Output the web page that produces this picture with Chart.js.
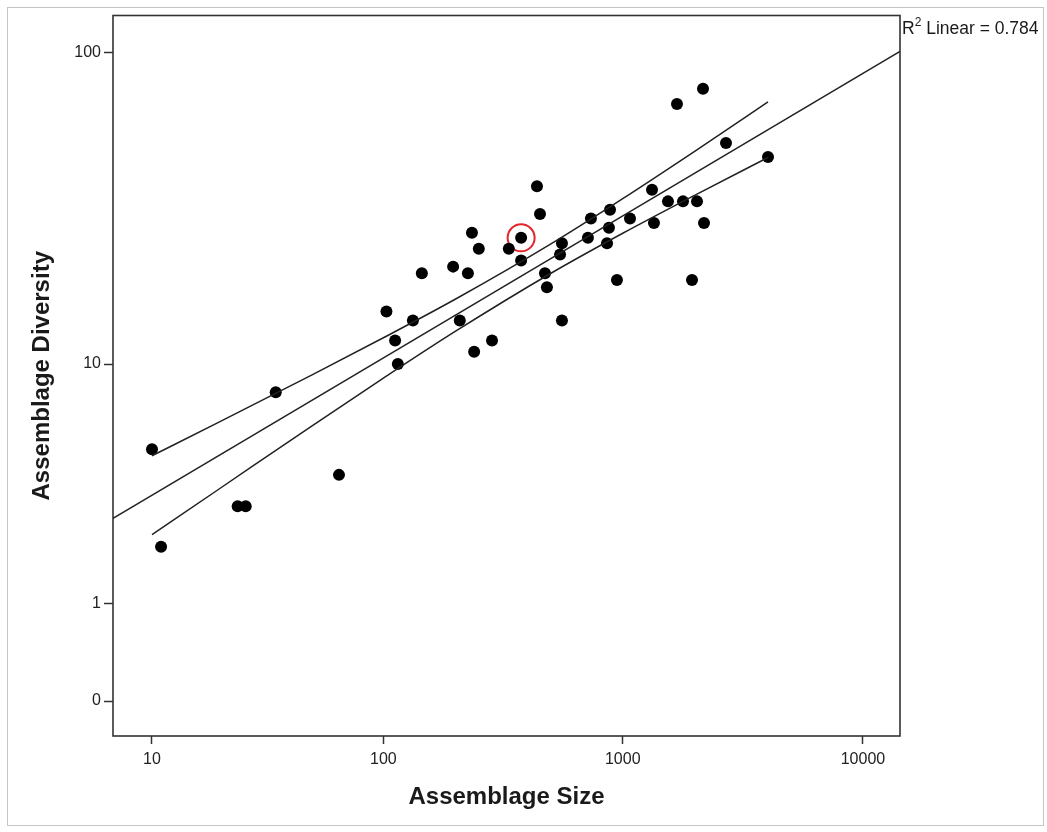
<!DOCTYPE html>
<html>
<head>
<meta charset="utf-8">
<script src="https://cdn.jsdelivr.net/npm/chart.js@4.4.1/dist/chart.umd.min.js"></script>
<style>
html,body{margin:0;padding:0;background:#fff;}
#wrap{position:relative;width:1047px;height:832px;overflow:hidden;}
#frame{position:absolute;left:7px;top:7px;width:1037px;height:819px;border:1px solid #c4c4c4;box-sizing:border-box;pointer-events:none;}
canvas{position:absolute;left:0;top:0;}
</style>
</head>
<body>
<div id="wrap"><canvas id="c" width="1047" height="832"></canvas><div id="frame"></div></div>
<script>
// ---- Data ----
const sizes = [10, 11, 24, 26, 35, 65, 103, 112, 115, 133, 145, 196, 209, 226, 235, 240, 251, 285, 335, 377,
               377, 439, 452, 474, 483, 548, 558, 558, 716, 737, 860, 876, 885, 946, 1072, 1324, 1349, 1543, 1682, 1782,
               1943, 2038, 2159, 2180, 2691, 4025];
const diversity = [5, 2, 3, 3, 8, 4, 15, 12, 10, 14, 20, 21, 14, 20, 27, 11, 24, 12, 24, 26,
                   22, 38, 31, 20, 18, 23, 25, 14, 26, 30, 25, 28, 32, 19, 30, 37, 29, 34, 69, 34,
                   19, 34, 77, 29, 52, 47];
const highlightX = [377];
const highlightY = [26];

// Fitted line (endpoints read at the plot edges)
const fitX = [6.57, 14263];
const fitY = [2.67, 100.7];

// Confidence band curves
const ciX = [10, 20, 50, 100, 200, 500, 1000, 2000, 4025];
const ciUpper = [4.73, 6.29, 9.19, 12.26, 16.44, 24.81, 34.68, 49.05, 69.98];
const ciLower = [2.27, 3.53, 6.09, 8.95, 12.87, 19.95, 26.90, 35.61, 46.83];

const xTickValues = [10, 100, 1000, 10000];
const yTickValues = [0, 1, 10, 100];
const xLabel = 'Assemblage Size';
const yLabel = 'Assemblage Diversity';
const r2Text = '0.784';

// ---- Transform: log10(v + 1) axes ----
const tf = v => Math.log10(v + 1);
const inv = u => Math.round(Math.pow(10, u) - 1);
const pts = (xs, ys) => xs.map((x, i) => ({x: tf(x), y: tf(ys[i])}));

const X_MIN = 0.8791, X_MAX = 4.1542;
const Y_MIN = -0.1079, Y_MAX = 2.1184;

const lineColor = '#222';
const tickFont = {family: "'Liberation Sans', Arial, sans-serif", size: 16};
const titleFont = {family: "'Liberation Sans', Arial, sans-serif", size: 24, weight: 'bold'};

const boxPlugin = {
  id: 'boxPlugin',
  beforeDatasetsDraw(chart) {
    const {ctx, chartArea: a} = chart;
    ctx.save();
    ctx.strokeStyle = '#333';
    ctx.lineWidth = 1.6;
    ctx.strokeRect(a.left, a.top, a.right - a.left, a.bottom - a.top);
    ctx.restore();
  },
  afterDraw(chart) {
    const {ctx, chartArea: a} = chart;
    ctx.save();
    ctx.fillStyle = '#1a1a1a';
    ctx.textBaseline = 'alphabetic';
    let x = a.right + 2;
    const base = 34;
    ctx.font = "17.5px 'Liberation Sans', Arial, sans-serif";
    ctx.fillText('R', x, base);
    x += ctx.measureText('R').width;
    ctx.font = "12px 'Liberation Sans', Arial, sans-serif";
    ctx.fillText('2', x, base - 8);
    x += ctx.measureText('2').width;
    ctx.font = "17.5px 'Liberation Sans', Arial, sans-serif";
    ctx.fillText(' Linear = ' + r2Text, x, base);
    ctx.restore();
  }
};

new Chart(document.getElementById('c'), {
  type: 'scatter',
  data: {
    datasets: [
      {label: 'Fit', data: pts(fitX, fitY), showLine: true, borderColor: lineColor, borderWidth: 1.5,
       pointRadius: 0, fill: false},
      {label: 'CI upper', data: pts(ciX, ciUpper), showLine: true, borderColor: lineColor, borderWidth: 1.5,
       pointRadius: 0, fill: false, cubicInterpolationMode: 'monotone'},
      {label: 'CI lower', data: pts(ciX, ciLower), showLine: true, borderColor: lineColor, borderWidth: 1.5,
       pointRadius: 0, fill: false, cubicInterpolationMode: 'monotone'},
      {label: 'Assemblages', data: pts(sizes, diversity), backgroundColor: '#000', borderColor: '#000',
       pointRadius: 6, pointHoverRadius: 6, borderWidth: 0},
      {label: 'Highlight', data: pts(highlightX, highlightY), backgroundColor: 'rgba(0,0,0,0)',
       borderColor: '#e3262b', borderWidth: 2, pointRadius: 13.5, pointHoverRadius: 13.5}
    ]
  },
  options: {
    responsive: false,
    animation: false,
    layout: {padding: {top: 13, right: 147, left: 0, bottom: 0}},
    plugins: {legend: {display: false}, tooltip: {enabled: false}},
    scales: {
      x: {
        type: 'linear', min: X_MIN, max: X_MAX,
        afterBuildTicks: s => { s.ticks = xTickValues.map(v => ({value: tf(v)})); },
        afterFit: s => { s.height = 96; },
        ticks: {callback: v => String(inv(v)), font: tickFont, color: '#222', padding: 6,
                maxRotation: 0, autoSkip: false},
        grid: {display: true, drawOnChartArea: false, drawTicks: true, tickLength: 8,
               tickColor: '#333', tickWidth: 1.5},
        border: {display: false},
        title: {display: true, text: xLabel, font: titleFont, color: '#1a1a1a', padding: {top: 0, bottom: 20}}
      },
      y: {
        type: 'linear', min: Y_MIN, max: Y_MAX,
        afterBuildTicks: s => { s.ticks = yTickValues.map(v => ({value: tf(v)})); },
        afterFit: s => { s.width = 113; },
        ticks: {callback: v => String(inv(v)), font: tickFont, color: '#222', padding: 3, autoSkip: false},
        grid: {display: true, drawOnChartArea: false, drawTicks: true, tickLength: 9,
               tickColor: '#333', tickWidth: 1.5},
        border: {display: false},
        title: {display: true, text: yLabel, font: titleFont, color: '#1a1a1a', padding: {top: 28, bottom: 0}}
      }
    }
  },
  plugins: [boxPlugin]
});
</script>
</body>
</html>
